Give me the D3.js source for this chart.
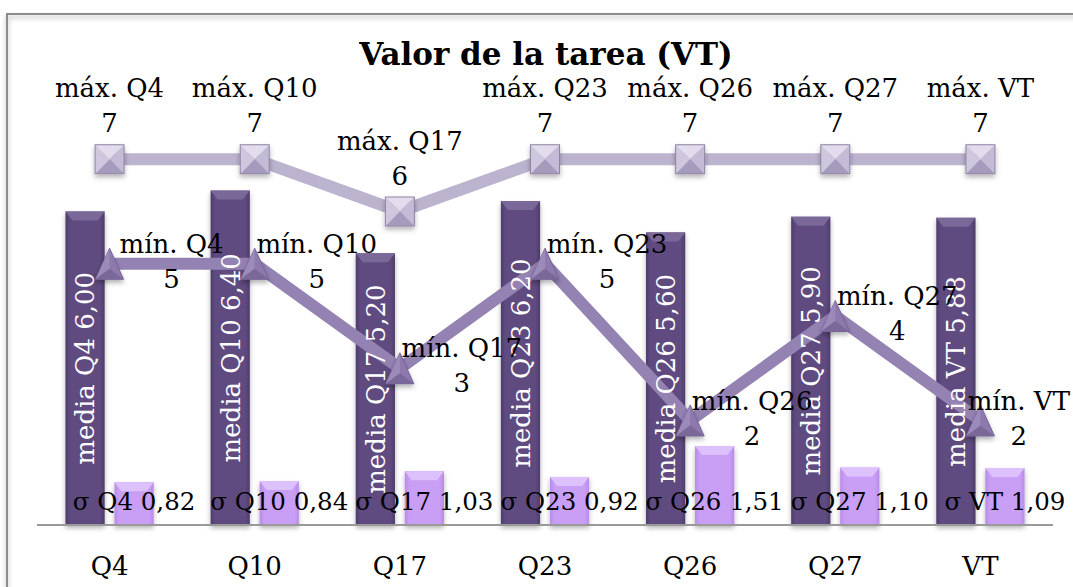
<!DOCTYPE html>
<html>
<head>
<meta charset="utf-8">
<script src="https://cdn.jsdelivr.net/npm/d3@7"></script>
<style>
  body { margin: 0; background: #fff; }
  text { font-family: "DejaVu Serif", serif; }
</style>
</head>
<body>
<svg id="chart"></svg>
<script>
const width = 1073;
const height = 587;

const categories = ['Q4', 'Q10', 'Q17', 'Q23', 'Q26', 'Q27', 'VT'];
const mediaValues = [6.00, 6.40, 5.20, 6.20, 5.60, 5.90, 5.88];
const sigmaValues = [0.82, 0.84, 1.03, 0.92, 1.51, 1.10, 1.09];
const maxValues = [7, 7, 6, 7, 7, 7, 7];
const minValues = [5, 5, 3, 5, 2, 4, 2];

const rows = categories.map((c, i) => ({
    cat: c,
    media: mediaValues[i],
    sigma: sigmaValues[i],
    max: maxValues[i],
    min: minValues[i]
}));

const es = d3.formatLocale({ decimal: ',', thousands: '.', grouping: [3], currency: ['', '€'] });
const fmt = es.format('.2f');

const fontSize = '26px';

const xScale = d3.scaleBand()
    .domain(categories)
    .range([37, 1053])
    .padding(0);

const subScale = d3.scaleBand()
    .domain(['media', 'sigma'])
    .range([0, xScale.bandwidth()])
    .paddingInner(0.2)
    .paddingOuter(0.58);

const yScale = d3.scaleLinear()
    .domain([0, 8])
    .range([525, 107]);

const cx = (d) => xScale(d.cat) + xScale.bandwidth() / 2;

const svg = d3.select('#chart')
    .attr('width', width)
    .attr('height', height);

const defs = svg.append('defs');

const shadow = defs.append('filter')
    .attr('id', 'shadow')
    .attr('x', '-30%').attr('y', '-30%')
    .attr('width', '160%').attr('height', '160%');
shadow.append('feDropShadow')
    .attr('dx', 0).attr('dy', 3)
    .attr('stdDeviation', 2.5)
    .attr('flood-color', '#000')
    .attr('flood-opacity', 0.3);

function hGradient(id, edge, mid) {
    const g = defs.append('linearGradient').attr('id', id)
        .attr('x1', 0).attr('x2', 1).attr('y1', 0).attr('y2', 0);
    g.append('stop').attr('offset', '0%').attr('stop-color', edge);
    g.append('stop').attr('offset', '12%').attr('stop-color', mid);
    g.append('stop').attr('offset', '88%').attr('stop-color', mid);
    g.append('stop').attr('offset', '100%').attr('stop-color', edge);
}
hGradient('gradMedia', '#4e3d6c', '#5f4b80');
hGradient('gradSigma', '#b98ae8', '#c99ff6');

// frame
svg.append('rect')
    .attr('x', 7)
    .attr('y', 14)
    .attr('width', 1200)
    .attr('height', 700)
    .attr('fill', 'none')
    .attr('stroke', '#8c8c8c')
    .attr('stroke-width', 2)
    .attr('filter', 'url(#shadow)');

// title
svg.append('text')
    .attr('x', 546)
    .attr('y', 65)
    .style('text-anchor', 'middle')
    .style('font-size', '31px')
    .style('font-weight', 'bold')
    .text('Valor de la tarea (VT)');

// bars
function drawBars(key, fill, bevel) {
    const bw = subScale.bandwidth();
    const g = svg.append('g').selectAll('g')
        .data(rows)
        .enter()
        .append('g')
            .attr('filter', 'url(#shadow)');
    g.append('rect')
        .attr('x', (d) => xScale(d.cat) + subScale(key))
        .attr('y', (d) => yScale(d[key]))
        .attr('width', bw)
        .attr('height', (d) => yScale(0) - yScale(d[key]))
        .attr('fill', fill);
    g.append('polygon')
        .attr('points', (d) => {
            const x0 = xScale(d.cat) + subScale(key);
            const y0 = yScale(d[key]);
            return [[x0, y0], [x0 + bw, y0], [x0 + bw - 7, y0 + 9], [x0 + 7, y0 + 9]].join(' ');
        })
        .attr('fill', bevel);
}
drawBars('media', 'url(#gradMedia)', '#7a6899');
drawBars('sigma', 'url(#gradSigma)', '#ddc1fc');

// baseline
svg.append('line')
    .attr('x1', 37)
    .attr('x2', 1053)
    .attr('y1', yScale(0))
    .attr('y2', yScale(0))
    .attr('stroke', '#999')
    .attr('stroke-width', 2);

// x axis labels
svg.append('g').selectAll('text')
    .data(rows)
    .enter()
    .append('text')
        .attr('x', cx)
        .attr('y', 575)
        .style('text-anchor', 'middle')
        .style('font-size', fontSize)
        .text((d) => d.cat);

// lines
const maxLine = d3.line().x(cx).y((d) => yScale(d.max));
const minLine = d3.line().x(cx).y((d) => yScale(d.min));

svg.append('path')
    .datum(rows)
    .attr('d', maxLine)
    .attr('fill', 'none')
    .attr('stroke', '#bcb3cf')
    .attr('stroke-width', 12);

svg.append('path')
    .datum(rows)
    .attr('d', minLine)
    .attr('fill', 'none')
    .attr('stroke', '#9482b3')
    .attr('stroke-width', 12);

// square markers (max)
const sq = 14.5;
const squares = svg.append('g').selectAll('g')
    .data(rows)
    .enter()
    .append('g')
        .attr('transform', (d) => `translate(${cx(d)}, ${yScale(d.max)})`)
        .attr('filter', 'url(#shadow)');
const sqFaces = [
    { pts: [[-sq, -sq], [sq, -sq], [0, 0]], fill: '#e2dcec' },
    { pts: [[sq, -sq], [sq, sq], [0, 0]], fill: '#c4bbd6' },
    { pts: [[sq, sq], [-sq, sq], [0, 0]], fill: '#a69abd' },
    { pts: [[-sq, sq], [-sq, -sq], [0, 0]], fill: '#cfc7de' }
];
sqFaces.forEach((f) => {
    squares.append('polygon')
        .attr('points', f.pts.join(' '))
        .attr('fill', f.fill);
});
squares.append('rect')
    .attr('x', -sq).attr('y', -sq)
    .attr('width', 2 * sq).attr('height', 2 * sq)
    .attr('fill', 'none')
    .attr('stroke', '#8f84a6')
    .attr('stroke-width', 1);

// triangle markers (min)
const tw = 14;
const th = 15.5;
const tris = svg.append('g').selectAll('g')
    .data(rows)
    .enter()
    .append('g')
        .attr('transform', (d) => `translate(${cx(d)}, ${yScale(d.min)})`)
        .attr('filter', 'url(#shadow)');
tris.append('polygon')
    .attr('points', [[0, -th], [tw, th], [-tw, th]].join(' '))
    .attr('fill', '#8d79ab')
    .attr('stroke', '#75639a')
    .attr('stroke-width', 1);
tris.append('polygon')
    .attr('points', [[0, -th], [0, 5], [-tw, th]].join(' '))
    .attr('fill', '#9c8abb');
tris.append('polygon')
    .attr('points', [[0, 5], [tw, th], [-tw, th]].join(' '))
    .attr('fill', '#7a6898');

// media labels (rotated inside bars)
svg.append('g').selectAll('text')
    .data(rows)
    .enter()
    .append('text')
        .attr('transform', (d) => {
            const x = xScale(d.cat) + subScale('media') + subScale.bandwidth() / 2;
            const y = (yScale(d.media) + yScale(0)) / 2;
            return `translate(${x}, ${y}) rotate(-90)`;
        })
        .attr('dy', '0.36em')
        .style('text-anchor', 'middle')
        .style('font-size', fontSize)
        .attr('fill', '#fff')
        .text((d) => `media ${d.cat} ${fmt(d.media)}`);

// sigma labels
svg.append('g').selectAll('text')
    .data(rows)
    .enter()
    .append('text')
        .attr('x', (d) => xScale(d.cat) + subScale('sigma') + subScale.bandwidth() / 2)
        .attr('y', yScale(0) - 15)
        .style('text-anchor', 'middle')
        .style('font-size', '24.5px')
        .text((d) => `σ ${d.cat} ${fmt(d.sigma)}`);

// max labels
const maxLab = svg.append('g').selectAll('text')
    .data(rows)
    .enter()
    .append('text')
        .attr('x', cx)
        .attr('y', (d) => yScale(d.max) - 62)
        .style('text-anchor', 'middle')
        .style('font-size', fontSize);
maxLab.append('tspan')
    .attr('x', cx)
    .text((d) => `máx. ${d.cat}`);
maxLab.append('tspan')
    .attr('x', cx)
    .attr('dy', 35)
    .text((d) => d.max);

// min labels (kept inside the chart on the right)
const minLab = svg.append('g').selectAll('text')
    .data(rows)
    .enter()
    .append('text')
        .attr('y', (d) => yScale(d.min) - 11)
        .style('text-anchor', 'middle')
        .style('font-size', fontSize);
minLab.append('tspan')
    .attr('class', 'l1')
    .text((d) => `mín. ${d.cat}`);
minLab.append('tspan')
    .attr('class', 'l2')
    .attr('dy', 35)
    .text((d) => d.min);
minLab.each(function (d) {
    const t = d3.select(this);
    const w = t.select('.l1').node().getComputedTextLength();
    const x = Math.min(cx(d) + 62, width - 3 - w / 2);
    t.selectAll('tspan').attr('x', x);
});
</script>
</body>
</html>
